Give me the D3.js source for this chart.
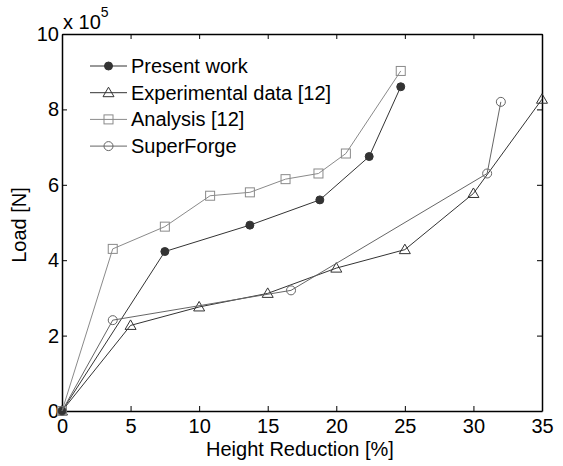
<!DOCTYPE html>
<html>
<head>
<meta charset="utf-8">
<script src="https://cdn.jsdelivr.net/npm/d3@7"></script>
<style>
  body { margin: 0; background: #fff; }
  text { font-family: "Liberation Sans", Arial, sans-serif; }
</style>
</head>
<body>
<div id="plot"></div>
<script>
const width = 563
const height = 466
const margin = ({top: 34, right: 21, bottom: 55, left: 62})

// load in units of 1e5 N, reduction in %
const presentX = [0, 7.5, 13.7, 18.8, 22.4, 24.7]
const presentY = [0, 4.23, 4.93, 5.6, 6.75, 8.6]
const experimentalX = [0, 5, 10, 15, 20, 25, 30, 35]
const experimentalY = [0, 2.27, 2.76, 3.12, 3.79, 4.28, 5.77, 8.27]
const analysisX = [0, 3.7, 7.5, 10.8, 13.7, 16.3, 18.7, 20.7, 24.7]
const analysisY = [0, 4.3, 4.89, 5.71, 5.8, 6.15, 6.3, 6.83, 9.02]
const superforgeX = [0, 3.7, 16.7, 31.0, 32.0]
const superforgeY = [0, 2.41, 3.2, 6.3, 8.2]

const xTicks = [0, 5, 10, 15, 20, 25, 30, 35]
const yTicks = [0, 2, 4, 6, 8, 10]

const series = [
  {name: "Present work", xs: presentX, ys: presentY, color: "#333", marker: "dot"},
  {name: "Experimental data [12]", xs: experimentalX, ys: experimentalY, color: "#333", marker: "triangle"},
  {name: "Analysis [12]", xs: analysisX, ys: analysisY, color: "#8a8a8a", marker: "square"},
  {name: "SuperForge", xs: superforgeX, ys: superforgeY, color: "#666", marker: "circle"}
]

const x = d3.scaleLinear().domain([0, 35]).range([margin.left, width - margin.right])
const y = d3.scaleLinear().domain([0, 10]).range([height - margin.bottom, margin.top])

const svg = d3.select("#plot").append("svg")
  .attr("width", width).attr("height", height)

const fs = "20px"

// bottom axis
svg.append("g")
  .attr("transform", `translate(0,${y(0)})`)
  .call(d3.axisBottom(x).tickValues(xTicks).tickSizeInner(-5).tickSizeOuter(0).tickPadding(8))
  .call(g => g.select(".domain").attr("stroke-width", 1.5))
  .call(g => g.selectAll("text").attr("font-size", fs).attr("fill", "#000").attr("font-family", "Liberation Sans, Arial, sans-serif"))

svg.append("g")
  .attr("transform", `translate(${x(0)},0)`)
  .call(d3.axisLeft(y).tickValues(yTicks).tickSizeInner(-5).tickSizeOuter(0).tickPadding(3))
  .call(g => g.select(".domain").attr("stroke-width", 1.5))
  .call(g => g.selectAll("text").attr("font-size", fs).attr("fill", "#000").attr("font-family", "Liberation Sans, Arial, sans-serif"))

// mirrored top/right
svg.append("g")
  .attr("transform", `translate(0,${y(10)})`)
  .call(d3.axisTop(x).tickValues(xTicks).tickSizeInner(-5).tickSizeOuter(0).tickFormat(""))
  .call(g => g.select(".domain").attr("stroke-width", 1.5))

svg.append("g")
  .attr("transform", `translate(${x(35)},0)`)
  .call(d3.axisRight(y).tickValues(yTicks).tickSizeInner(-5).tickSizeOuter(0).tickFormat(""))
  .call(g => g.select(".domain").attr("stroke-width", 1.5))

// exponent label
const ex = svg.append("text")
  .attr("x", x(0) + 1).attr("y", y(10) - 5)
  .attr("font-size", fs).attr("fill", "#000")
ex.append("tspan").text("x 10")
ex.append("tspan").attr("dy", -12).attr("font-size", "14px").text("5")

svg.append("text")
  .attr("x", (x(0) + x(35)) / 2 - 2).attr("y", 456)
  .attr("text-anchor", "middle").attr("font-size", fs).attr("fill", "#000")
  .text("Height Reduction [%]")

svg.append("text")
  .attr("transform", `translate(26,${225}) rotate(-90)`)
  .attr("text-anchor", "middle").attr("font-size", fs).attr("fill", "#000")
  .text("Load [N]")

function drawMarker(g, type, color, cx, cy) {
  if (type === "dot") {
    g.append("circle").attr("cx", cx).attr("cy", cy).attr("r", 4).attr("fill", color).attr("stroke", color)
  } else if (type === "circle") {
    g.append("circle").attr("cx", cx).attr("cy", cy).attr("r", 4.5).attr("fill", "none").attr("stroke", color)
  } else if (type === "square") {
    g.append("rect").attr("x", cx - 4.5).attr("y", cy - 4.5).attr("width", 9).attr("height", 9)
      .attr("fill", "none").attr("stroke", color)
  } else if (type === "triangle") {
    g.append("path").attr("d", `M${cx},${cy - 5.5}L${cx + 5.5},${cy + 4}L${cx - 5.5},${cy + 4}Z`)
      .attr("fill", "none").attr("stroke", color)
  }
}

const line = d3.line().x(d => x(d[0])).y(d => y(d[1]))

series.forEach(s => {
  const pts = s.xs.map((v, i) => [v, s.ys[i]])
  const g = svg.append("g")
  g.append("path").datum(pts).attr("d", line)
    .attr("fill", "none").attr("stroke", s.color).attr("stroke-width", 1)
  pts.forEach(p => drawMarker(g, s.marker, s.color, x(p[0]), y(p[1])))
})

// legend
const leg = svg.append("g")
series.forEach((s, i) => {
  const ly = 66 + i * 26.7
  leg.append("line").attr("x1", 90).attr("x2", 127).attr("y1", ly).attr("y2", ly)
    .attr("stroke", s.color).attr("stroke-width", 1)
  drawMarker(leg, s.marker, s.color, 108.5, ly)
  leg.append("text").attr("x", 131).attr("y", ly + 7)
    .attr("font-size", fs).attr("fill", "#000").text(s.name)
})
</script>
</body>
</html>
